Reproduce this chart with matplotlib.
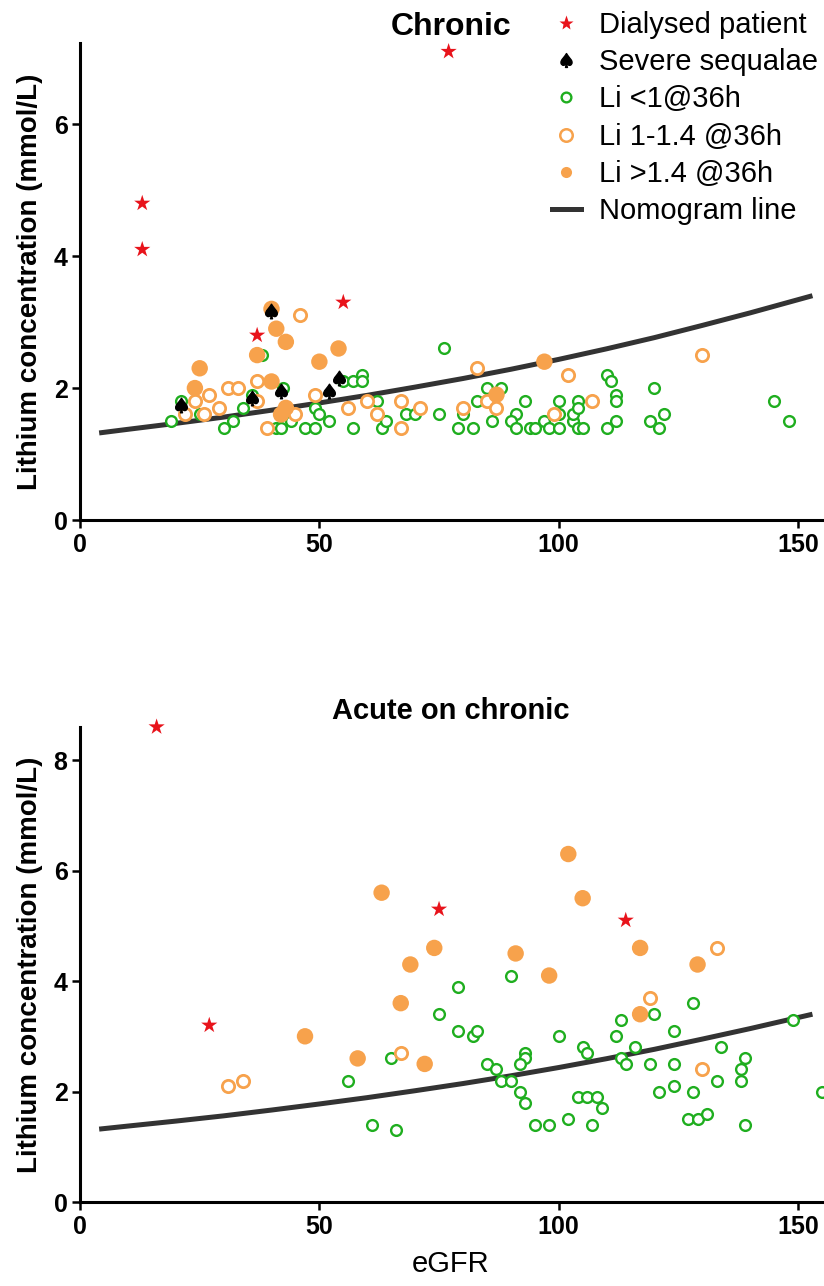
import matplotlib
matplotlib.use("Agg")
import matplotlib.pyplot as plt
from matplotlib.lines import Line2D

plt.rcParams["font.family"] = ["Liberation Sans", "DejaVu Sans"]

GREEN = "#1fae1f"
ORANGE = "#f7a24c"
RED = "#e8131b"
LINE = "#333333"

# nomogram line (same in both panels)
NOMO_EGFR = [4, 10, 20, 30, 40, 50, 60, 70, 80, 90, 100, 110, 120, 130, 140, 153]
NOMO_LI = [1.32, 1.375, 1.465, 1.56, 1.665, 1.775, 1.89, 2.015, 2.145, 2.285,
           2.435, 2.595, 2.765, 2.95, 3.14, 3.40]

# ---- Chronic ----
CH_STAR_X = [13, 13, 77, 55, 37]
CH_STAR_Y = [4.8, 4.1, 7.1, 3.3, 2.8]
CH_SPADE_X = [40, 21, 36, 42, 52, 54]
CH_SPADE_Y = [3.17, 1.75, 1.85, 1.95, 1.95, 2.15]
CH_HIGH_X = [40, 41, 43, 54, 37, 50, 25, 24, 40, 43, 42, 87, 97]
CH_HIGH_Y = [3.2, 2.9, 2.7, 2.6, 2.5, 2.4, 2.3, 2.0, 2.1, 1.7, 1.6, 1.9, 2.4]
CH_MID_X = [46, 24, 27, 29, 26, 22, 31, 33, 37, 37, 39, 45, 49, 56, 60, 62,
            83, 67, 67, 71, 80, 85, 87, 99, 107, 102, 130]
CH_MID_Y = [3.1, 1.8, 1.9, 1.7, 1.6, 1.6, 2.0, 2.0, 2.1, 1.8, 1.4, 1.6, 1.9, 1.7, 1.8, 1.6,
            2.3, 1.8, 1.4, 1.7, 1.7, 1.8, 1.7, 1.6, 1.8, 2.2, 2.5]
CH_LOW_X = [38, 19, 21, 25, 30, 32, 34, 36, 41, 42, 42.5, 44, 47, 49, 49, 50, 52,
            55, 57, 59, 59, 57, 62, 63, 64, 68, 70, 75, 76, 80, 79, 82, 83, 85,
            88, 86, 91, 90, 91, 93, 94, 95, 97, 98, 100, 100, 100, 103, 103, 104,
            104, 104, 105, 110, 111, 112, 112, 112, 110, 120, 119, 121, 122, 145, 148]
CH_LOW_Y = [2.5, 1.5, 1.8, 1.6, 1.4, 1.5, 1.7, 1.9, 1.4, 1.4, 2.0, 1.5, 1.4, 1.4, 1.7, 1.6, 1.5,
            2.1, 2.1, 2.2, 2.1, 1.4, 1.8, 1.4, 1.5, 1.6, 1.6, 1.6, 2.6, 1.6, 1.4, 1.4, 1.8, 2.0,
            2.0, 1.5, 1.6, 1.5, 1.4, 1.8, 1.4, 1.4, 1.5, 1.4, 1.8, 1.6, 1.4, 1.5, 1.6, 1.8,
            1.7, 1.4, 1.4, 2.2, 2.1, 1.9, 1.8, 1.5, 1.4, 2.0, 1.5, 1.4, 1.6, 1.8, 1.5]

# ---- Acute on chronic ----
AC_STAR_X = [16, 27, 75, 114]
AC_STAR_Y = [8.6, 3.2, 5.3, 5.1]
AC_HIGH_X = [63, 74, 69, 102, 105, 117, 91, 98, 129, 67, 47, 58, 72, 117]
AC_HIGH_Y = [5.6, 4.6, 4.3, 6.3, 5.5, 4.6, 4.5, 4.1, 4.3, 3.6, 3.0, 2.6, 2.5, 3.4]
AC_MID_X = [31, 34, 67, 133, 119, 130]
AC_MID_Y = [2.1, 2.2, 2.7, 4.6, 3.7, 2.4]
AC_LOW_X = [90, 79, 75, 79, 82, 83, 65, 56, 61, 66, 120, 113, 128, 100, 112, 124,
            134, 105, 106, 116, 85, 87, 88, 90, 93, 93, 92, 92, 93, 113, 114, 119,
            124, 133, 139, 138, 138, 121, 124, 128, 104, 106, 108, 109, 95, 98, 102,
            107, 127, 129, 131, 139, 149, 155]
AC_LOW_Y = [4.1, 3.9, 3.4, 3.1, 3.0, 3.1, 2.6, 2.2, 1.4, 1.3, 3.4, 3.3, 3.6, 3.0, 3.0, 3.1,
            2.8, 2.8, 2.7, 2.8, 2.5, 2.4, 2.2, 2.2, 2.7, 2.6, 2.5, 2.0, 1.8, 2.6, 2.5, 2.5,
            2.5, 2.2, 2.6, 2.4, 2.2, 2.0, 2.1, 2.0, 1.9, 1.9, 1.9, 1.7, 1.4, 1.4, 1.5,
            1.4, 1.5, 1.5, 1.6, 1.4, 3.3, 2.0]

SPADE = r"$\spadesuit$"


def style_axes(ax, ymax, yticks):
    ax.set_xlim(0, 155)
    ax.set_ylim(0, ymax)
    ax.set_xticks([0, 50, 100, 150])
    ax.set_yticks(yticks)
    for side in ("top", "right"):
        ax.spines[side].set_visible(False)
    for side in ("left", "bottom"):
        ax.spines[side].set_linewidth(2.2)
    ax.tick_params(length=6, width=1.8, labelsize=18, pad=3)
    for lab in ax.get_xticklabels() + ax.get_yticklabels():
        lab.set_fontweight("bold")
    ax.set_ylabel("Lithium concentration (mmol/L)", fontsize=20,
                  fontweight="bold", labelpad=8)


def draw_panel(ax, low, mid, high, stars, spades=None):
    ax.plot(NOMO_EGFR, NOMO_LI, color=LINE, lw=3.6, zorder=2, clip_on=False,
            solid_capstyle="butt")
    ax.scatter(*low, s=60, facecolor="white", edgecolor=GREEN, linewidth=1.7,
               zorder=3, clip_on=False)
    ax.scatter(*mid, s=78, facecolor="white", edgecolor=ORANGE, linewidth=2.0,
               zorder=4, clip_on=False)
    ax.scatter(*high, s=140, color=ORANGE, edgecolor="none", zorder=5,
               clip_on=False)
    if spades is not None:
        ax.scatter(*spades, s=110, marker=SPADE, color="black", zorder=6,
                   clip_on=False)
    ax.scatter(*stars, s=150, marker="*", color=RED, edgecolor="none",
               zorder=7, clip_on=False)


fig = plt.figure(figsize=(8.24, 12.86), dpi=100)
ax1 = fig.add_axes([0.0971, 0.5956, 0.9005, 0.371])
ax2 = fig.add_axes([0.0971, 0.0653, 0.9005, 0.3694])

draw_panel(ax1, (CH_LOW_X, CH_LOW_Y), (CH_MID_X, CH_MID_Y),
           (CH_HIGH_X, CH_HIGH_Y), (CH_STAR_X, CH_STAR_Y),
           (CH_SPADE_X, CH_SPADE_Y))
style_axes(ax1, 7.23, [0, 2, 4, 6])
ax1.set_title("Chronic", fontsize=23, fontweight="bold", pad=6)

draw_panel(ax2, (AC_LOW_X, AC_LOW_Y), (AC_MID_X, AC_MID_Y),
           (AC_HIGH_X, AC_HIGH_Y), (AC_STAR_X, AC_STAR_Y))
style_axes(ax2, 8.6, [0, 2, 4, 6, 8])
ax2.set_title("Acute on chronic", fontsize=21, fontweight="bold", pad=6)
ax2.set_xlabel("eGFR", fontsize=21, labelpad=8)

handles = [
    Line2D([], [], ls="none", marker="*", ms=11, color=RED, mec="none"),
    Line2D([], [], ls="none", marker=SPADE, ms=10, color="black"),
    Line2D([], [], ls="none", marker="o", ms=7, mfc="white", mec=GREEN, mew=1.7),
    Line2D([], [], ls="none", marker="o", ms=9, mfc="white", mec=ORANGE, mew=1.8),
    Line2D([], [], ls="none", marker="o", ms=8, color=ORANGE, mec="none"),
    Line2D([], [], color=LINE, lw=3.6),
]
labels = ["Dialysed patient", "Severe sequalae", "Li <1@36h",
          "Li 1-1.4 @36h", "Li >1.4 @36h", "Nomogram line"]
fig.legend(handles, labels, loc="upper left", bbox_to_anchor=(0.652, 1.003),
           frameon=False, fontsize=21, handlelength=1.0, handletextpad=0.62,
           labelspacing=0.32, borderpad=0.0)

fig.savefig("out.png", dpi=100, facecolor="white")
